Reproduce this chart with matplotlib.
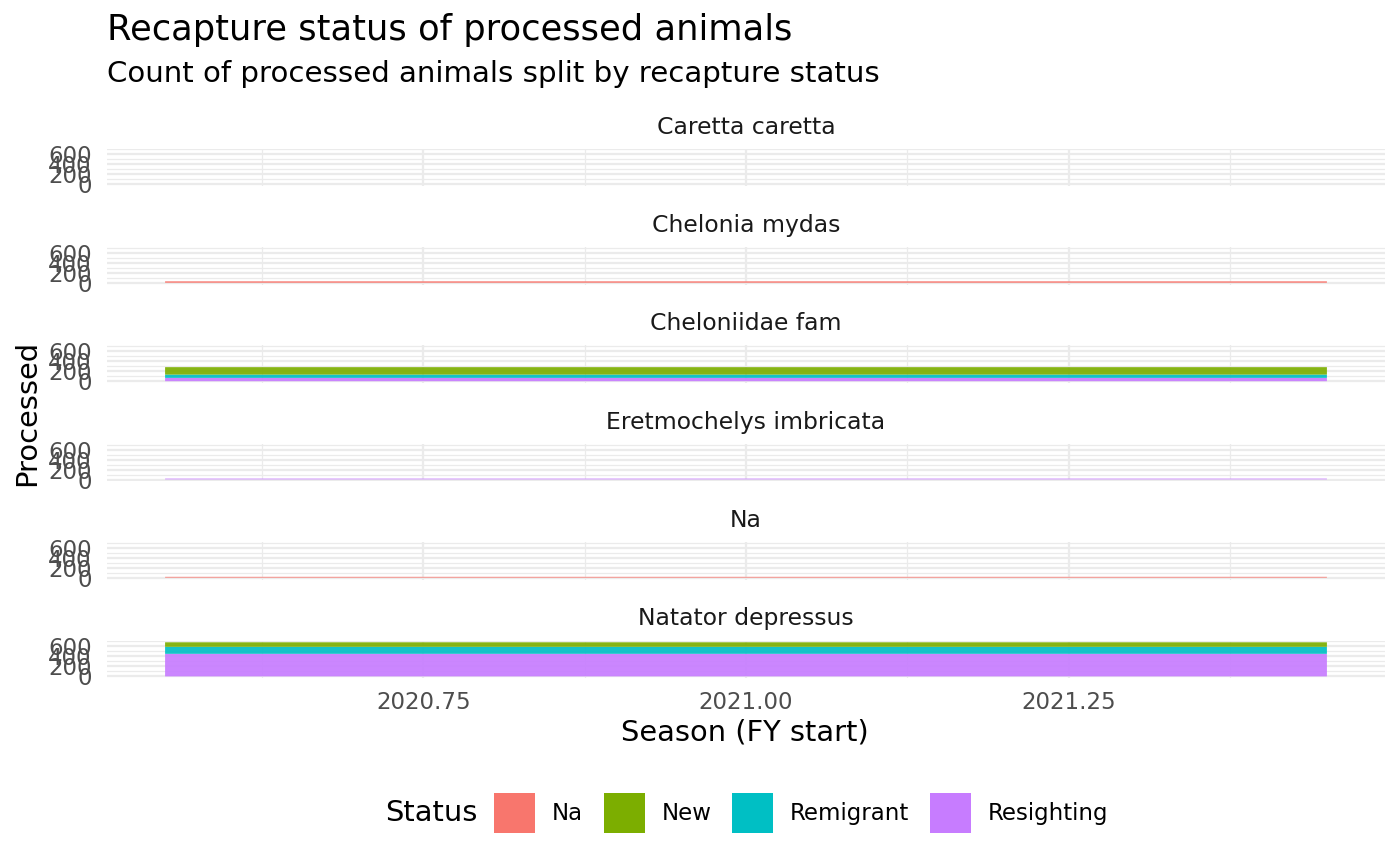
"""Recapture status of processed animals, faceted by species."""

import numpy as np
import matplotlib.pyplot as plt
from matplotlib.patches import Patch
from matplotlib.ticker import MultipleLocator, FixedLocator

# data
species = [
    "Caretta caretta",
    "Chelonia mydas",
    "Cheloniidae fam",
    "Eretmochelys imbricata",
    "Na",
    "Natator depressus",
]
season = 2021
statuses = ["Na", "New", "Remigrant", "Resighting"]
na_counts = [0, 30, 0, 0, 25, 0]
new_counts = [0, 0, 148, 0, 0, 90]
remigrant_counts = [0, 0, 66, 0, 0, 140]
resighting_counts = [0, 0, 66, 25, 0, 450]

colors = {
    "Na": "#F8766D",
    "New": "#7CAE00",
    "Remigrant": "#00BFC4",
    "Resighting": "#C77CFF",
}

counts = {
    "Na": na_counts,
    "New": new_counts,
    "Remigrant": remigrant_counts,
    "Resighting": resighting_counts,
}

W, H = 1400, 866
fig = plt.figure(figsize=(W / 100, H / 100), dpi=100)

# panel geometry in pixels
left_px, right_px = 107, 1385
top_px = 148.6
panel_h = 37.5
step = 98.4

totals = np.array([sum(counts[s][i] for s in statuses) for i in range(len(species))])
ymax = totals.max()

grid_col = "#EBEBEB"
axes = []
for i, name in enumerate(species):
    y_top = top_px + i * step
    ax = fig.add_axes([left_px / W, 1 - (y_top + panel_h) / H,
                       (right_px - left_px) / W, panel_h / H])
    axes.append(ax)

    # stack: first level on top, so draw from the last level upward
    bottom = 0
    for s in reversed(statuses):
        v = counts[s][i]
        if v > 0:
            # the two faint panels in the reference look washed out
            alpha = 0.6 if i in (3, 4) else 0.92
            bars = ax.bar(season, v, width=0.9, bottom=bottom, color=colors[s],
                          alpha=alpha, linewidth=0, zorder=3)
            for b in bars:
                b.set_snap(False)
        bottom += v

    ax.set_xlim(season - 0.495, season + 0.495)
    ax.set_ylim(-0.05 * ymax, 1.05 * ymax)

    ax.yaxis.set_major_locator(FixedLocator([0, 200, 400, 600]))
    ax.yaxis.set_minor_locator(FixedLocator([100, 300, 500, 700]))
    ax.xaxis.set_major_locator(FixedLocator([2020.75, 2021.0, 2021.25]))
    ax.xaxis.set_minor_locator(MultipleLocator(0.25, offset=0.125))

    ax.grid(which="major", color=grid_col, linewidth=1.6, zorder=0)
    ax.grid(which="minor", color=grid_col, linewidth=0.9, zorder=0)
    ax.set_axisbelow(True)
    for sp in ax.spines.values():
        sp.set_visible(False)
    ax.tick_params(which="both", length=0)
    ax.tick_params(axis="y", labelsize=16.5, labelcolor="#4D4D4D", pad=11)
    ax.set_yticklabels(["0", "200", "400", "600"])

    if i < len(species) - 1:
        ax.tick_params(axis="x", labelbottom=False)
    else:
        ax.tick_params(axis="x", labelsize=16.5, labelcolor="#4D4D4D", pad=9)
        ax.set_xticklabels(["2020.75", "2021.00", "2021.25"])

    ax.text(0.5, 1 + 21.6 / panel_h, name, transform=ax.transAxes,
            ha="center", va="center", fontsize=16.9, color="#1A1A1A")

# titles
fig.text(107 / W, 1 - 30 / H, "Recapture status of processed animals",
         fontsize=25.4, ha="left", va="center")
fig.text(107 / W, 1 - 74 / H, "Count of processed animals split by recapture status",
         fontsize=21.1, ha="left", va="center")
fig.text(745 / W, 1 - 733 / H, "Season (FY start)", fontsize=20.8,
         ha="center", va="center")
fig.text(27 / W, 1 - 413 / H, "Processed", fontsize=20.8, rotation=90,
         ha="center", va="center")

# legend
handles = [Patch(facecolor=colors[s], edgecolor="none") for s in statuses]
fig.text(385 / W, 1 - 813 / H, "Status", fontsize=20.8, ha="left", va="center")
fig.legend(handles, statuses, loc="center left",
           bbox_to_anchor=(494 / W, 1 - 813 / H), ncol=4, frameon=False,
           fontsize=16.5, handlelength=1.8, handleheight=2.35,
           handletextpad=0.72, columnspacing=0.9, borderpad=0,
           borderaxespad=0)

fig.savefig("out.png", dpi=100)
